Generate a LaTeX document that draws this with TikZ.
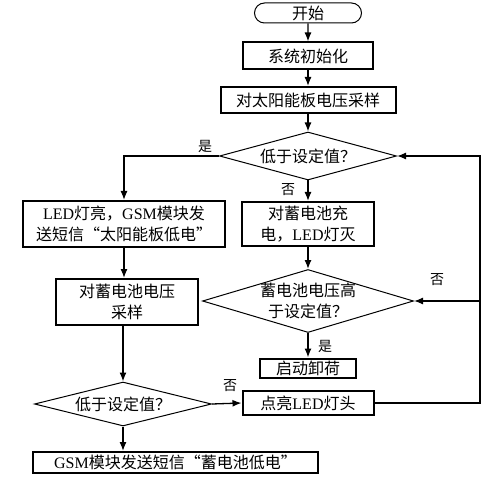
\documentclass[tikz,border=0pt]{standalone}
\usepackage{fontspec}
\setmainfont{Noto Sans CJK SC}
\newfontfamily\latinfont{Liberation Serif}
\newcommand\en[1]{{\latinfont #1}}
\usetikzlibrary{arrows,arrows.meta,positioning,shapes}
\begin{document}
\begin{tikzpicture}[x=1pt,y=-1pt,
  every node/.style={align=center,font=\fontsize{16}{21}\selectfont,inner sep=0pt},
  terminal/.style={draw,line width=1pt,rounded rectangle,minimum width=107pt,minimum height=20pt},
  process/.style={draw,line width=2pt,minimum height=26pt},
  decision/.style={draw,line width=1pt,diamond,aspect=3.6},
  lbl/.style={font=\fontsize{14}{16}\selectfont},
  to/.style={>={Latex[length=9pt,width=7pt]},line width=1.3pt},
  sub/.style={->,to}]

    \useasboundingbox (0,0) rectangle (500,478);

    \node[terminal](start) at (308,13) {开始};
    \node[process,minimum width=130pt,minimum height=27pt](init) at (308,56) {系统初始化};
    \node[process,minimum width=175pt](panel) at (308,100) {对太阳能板电压采样};
    \node[decision,minimum width=177pt,minimum height=48pt](low1) at (308,156) {低于设定值？};

    \node[process,minimum width=202pt,minimum height=46pt](alarm1) at (124,224)
        {\en{LED}灯亮，\en{GSM}模块发\\送短信“太阳能板低电”};
    \node[process,minimum width=142pt,minimum height=46pt](battery) at (127,302)
        {对蓄电池电压\\采样};
    \node[decision,minimum width=177pt,minimum height=44pt](low2) at (123,404) {低于设定值？};
    \node[process,minimum width=285pt,minimum height=21pt](alarm2) at (175.5,462.5)
        {\en{GSM}模块发送短信“蓄电池低电”};

    \node[process,minimum width=132pt,minimum height=44pt](charge) at (308,224)
        {对蓄电池充\\电，\en{LED}灯灭};
    \node[decision,aspect=3.35,inner sep=-4pt,minimum width=211pt,minimum height=63pt](high) at (308,301)
        {蓄电池电压高\\于设定值？};
    \node[process,minimum width=96pt,minimum height=19pt](unload) at (308,368) {启动卸荷};
    \node[process,minimum width=131pt,minimum height=24pt](lamp) at (308,403) {点亮\en{LED}灯头};

    \coordinate (back) at (480,301);

    \draw[sub](start) -- (init);
    \draw[sub](init) -- (panel);
    \draw[sub](panel) -- (low1);
    \draw[sub](low1.west) -| (alarm1.north);
    \draw[sub](low1) -- (charge);
    \draw[sub](charge) -- (high);
    \draw[sub](high) -- (unload);
    \draw[sub](alarm1) -- (alarm1 |- battery.north);
    \draw[sub](battery.south -| low2.north) -- (low2.north);
    \draw[sub](low2.east) -- (lamp.west);
    \draw[sub](low2.south) -- (low2.south |- alarm2.north);
    \draw[sub](lamp.east) -| (back) |- (low1.east);
    \draw[sub](back) -- (high.east);

    \node[lbl](yes1) at (205,146) {是};
    \node[lbl](no1) at (288,190) {否};
    \node[lbl](no2) at (437,280) {否};
    \node[lbl](yes2) at (325,346) {是};
    \node[lbl](no3) at (230,386) {否};
\end{tikzpicture}
\end{document}
